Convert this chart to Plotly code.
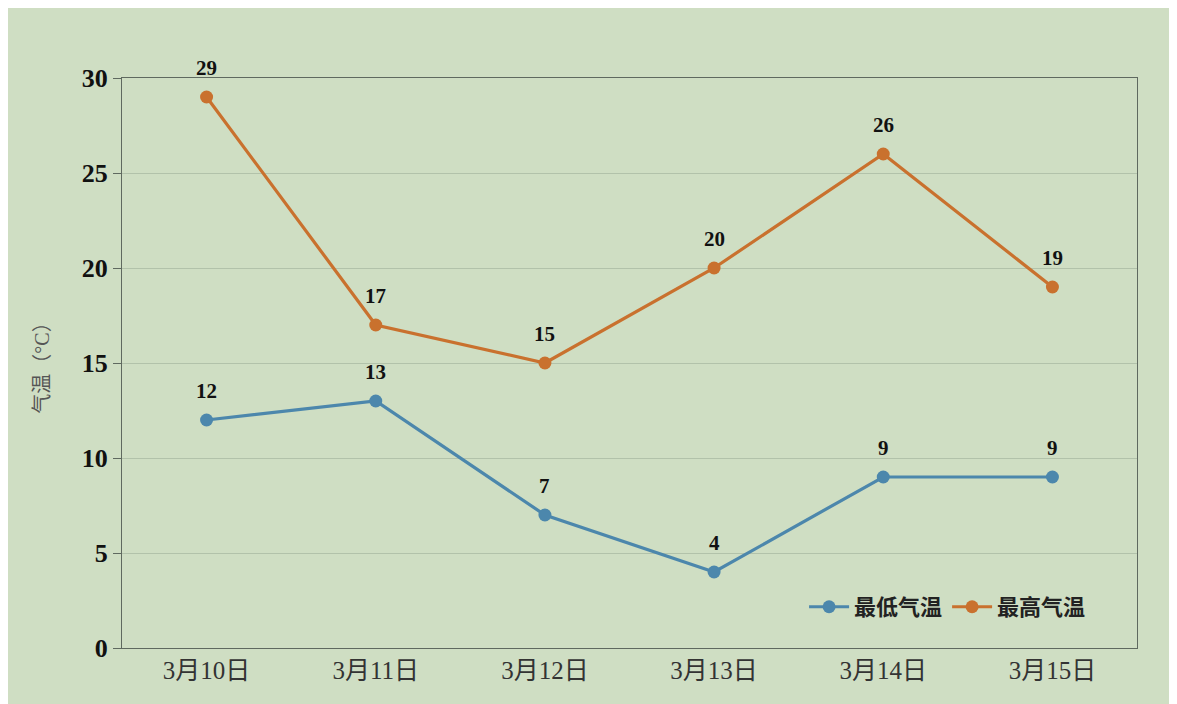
import plotly.graph_objects as go

dates = ["3月10日", "3月11日", "3月12日", "3月13日", "3月14日", "3月15日"]
low_temp = [12, 13, 7, 4, 9, 9]
high_temp = [29, 17, 15, 20, 26, 19]
y_ticks = [0, 5, 10, 15, 20, 25, 30]

BG = "rgb(207,222,195)"
ORANGE = "rgb(201,113,46)"
BLUE = "rgb(76,135,172)"
SERIF = "Liberation Serif, Noto Sans CJK SC, serif"

W, H = 1185, 712
fig = go.Figure()
fig.add_trace(go.Scatter(x=dates, y=low_temp, name="最低气温", mode="lines+markers",
                         line=dict(color=BLUE, width=3.2), marker=dict(size=13, color=BLUE)))
fig.add_trace(go.Scatter(x=dates, y=high_temp, name="最高气温", mode="lines+markers",
                         line=dict(color=ORANGE, width=3.2), marker=dict(size=13, color=ORANGE)))

annotations = []
for series in (low_temp, high_temp):
    for d, v in zip(dates, series):
        annotations.append(dict(x=d, y=v, text=str(v), showarrow=False, yshift=29,
                                font=dict(family=SERIF, size=21, color="#111", weight="bold"),
                                xref="x", yref="y"))

fig.update_layout(
    width=W, height=H,
    margin=dict(l=114, r=W - 1129, t=70, b=H - 640),
    paper_bgcolor=BG, plot_bgcolor=BG,
    annotations=annotations,
    showlegend=True,
    legend=dict(orientation="h", x=0.672, y=0.072, xanchor="left", yanchor="middle",
                bgcolor="rgba(0,0,0,0)",
                font=dict(family=SERIF, size=22, color="#222", weight="bold"),
                itemwidth=40, traceorder="normal"),
)
fig.update_xaxes(
    type="category", range=[-0.5, 5.5],
    showline=True, linecolor="rgb(95,105,95)", linewidth=1.2, mirror=True,
    showgrid=False, ticks="",
    tickfont=dict(family=SERIF, size=25, color="#333"),
)
fig.update_yaxes(
    range=[0, 30], tickvals=y_ticks,
    showline=True, linecolor="rgb(95,105,95)", linewidth=1.2, mirror=True,
    showgrid=True, gridcolor="rgb(178,194,170)", gridwidth=1,
    ticks="outside", ticklen=8, tickcolor="rgb(95,105,95)",
    tickfont=dict(family="Liberation Serif, serif", size=26, color="#111", weight="bold"),
    title=dict(text="气温（°C）", font=dict(family=SERIF, size=20, color="#555"), standoff=26),
    zeroline=False,
)
fig.write_html("out.html")
